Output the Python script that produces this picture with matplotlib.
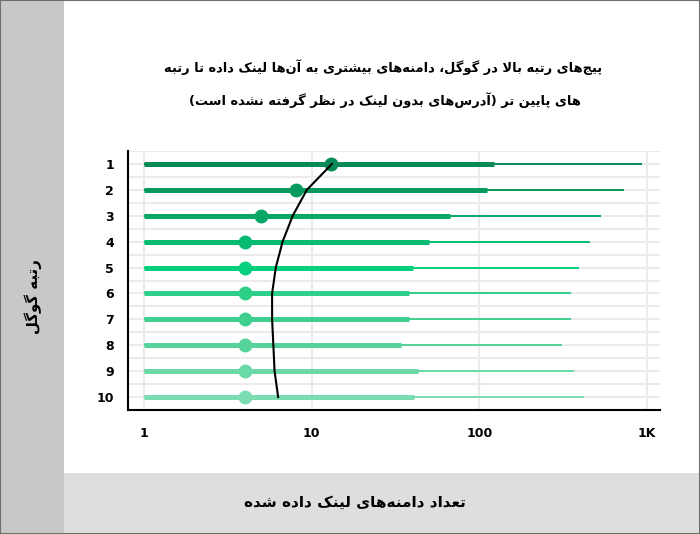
import numpy as np
import matplotlib.pyplot as plt
from matplotlib.patches import Rectangle

# data
ranks = [1, 2, 3, 4, 5, 6, 7, 8, 9, 10]
median_links = [13, 8, 5, 4, 4, 4, 4, 4, 4, 4]
q3_links = [123, 112, 67, 50, 40, 38, 38, 34, 43, 41]
max_links = [940, 730, 530, 460, 395, 355, 353, 313, 370, 425]
trend_links = [13.2, 9.35, 7.7, 6.7, 6.1, 5.8, 5.8, 5.9, 6.0, 6.3]
row_colors = ['#078a55', '#08995e', '#07a866', '#05bb72', '#06d07e',
              '#2ecf88', '#3fd08f', '#55d39a', '#6ad9a6', '#7adcb0']
x_ticks = [1, 10, 100, 1000]
x_tick_labels = ['1', '10', '100', '1K']

title_lines = ['پیج‌های رتبه بالا در گوگل، دامنه‌های بیشتری به آن‌ها لینک داده تا رتبه',
               'های پایین تر (آدرس‌های بدون لینک در نظر گرفته نشده است)']
y_label = 'رتبه گوگل'
x_label = 'تعداد دامنه‌های لینک داده شده'


# matplotlib has no arabic shaping, so do a small one by hand
LETTERS = [('ء', 0xFE80, 1), ('آ', 0xFE81, 2), ('ا', 0xFE8D, 2), ('ب', 0xFE8F, 4),
           ('ت', 0xFE95, 4), ('ث', 0xFE99, 4), ('ج', 0xFE9D, 4), ('ح', 0xFEA1, 4),
           ('خ', 0xFEA5, 4), ('د', 0xFEA9, 2), ('ذ', 0xFEAB, 2), ('ر', 0xFEAD, 2),
           ('ز', 0xFEAF, 2), ('س', 0xFEB1, 4), ('ش', 0xFEB5, 4), ('ص', 0xFEB9, 4),
           ('ض', 0xFEBD, 4), ('ط', 0xFEC1, 4), ('ظ', 0xFEC5, 4), ('ع', 0xFEC9, 4),
           ('غ', 0xFECD, 4), ('ف', 0xFED1, 4), ('ق', 0xFED5, 4), ('ل', 0xFEDD, 4),
           ('م', 0xFEE1, 4), ('ن', 0xFEE5, 4), ('ه', 0xFEE9, 4), ('و', 0xFEED, 2),
           ('پ', 0xFB56, 4), ('چ', 0xFB7A, 4), ('ژ', 0xFB8A, 2), ('ک', 0xFB8E, 4),
           ('گ', 0xFB92, 4), ('ی', 0xFBFC, 4)]
FORMS = {ch: (start, n) for ch, start, n in LETTERS}


def shape(text):
    out = []
    i = 0
    while i < len(text):
        ch = text[i]
        if ch not in FORMS:
            if ch != '\u200c':
                out.append(ch)
            i += 1
            continue
        prev = text[i - 1] if i > 0 else ''
        join_prev = prev in FORMS and FORMS[prev][1] == 4
        nxt = text[i + 1] if i + 1 < len(text) else ''
        if ch == 'ل' and nxt in ('ا', 'آ'):
            base = 0xFEFB if nxt == 'ا' else 0xFEF5
            out.append(chr(base + (1 if join_prev else 0)))
            i += 2
            continue
        start, n = FORMS[ch]
        join_next = n == 4 and nxt in FORMS
        if n == 1:
            k = 0
        elif join_prev and join_next:
            k = 3
        elif join_prev:
            k = 1
        elif join_next:
            k = 2
        else:
            k = 0
        out.append(chr(start + k))
        i += 1
    vis = ''.join(reversed(out))
    return vis.translate(str.maketrans('()', ')('))


fig = plt.figure(figsize=(7, 5.34), dpi=100)
fig.patches.append(Rectangle((0, 0), 64 / 700, 1, transform=fig.transFigure,
                             facecolor='#c8c8c8', edgecolor='none', zorder=0))
fig.patches.append(Rectangle((64 / 700, 0), 1 - 64 / 700, 61 / 534, transform=fig.transFigure,
                             facecolor='#dedede', edgecolor='none', zorder=0))
fig.patches.append(Rectangle((0, 0), 1, 1, transform=fig.transFigure,
                             facecolor='none', edgecolor='#6e6e6e', lw=1.5, zorder=5))

ax = fig.add_axes([128 / 700, 1 - 410 / 534, 532 / 700, 259 / 534])
ax.set_xscale('log')
ax.set_xlim(0.8, 1200)
ax.set_ylim(10.5, 0.5)

for r, med, q3, mx, c in zip(ranks, median_links, q3_links, max_links, row_colors):
    ax.plot([1, mx], [r, r], color=c, lw=1.4, solid_capstyle='butt', zorder=3)
    ax.plot([1, q3], [r, r], color=c, lw=3.6, solid_capstyle='butt', zorder=4)
    ax.plot([med], [r], 'o', color=c, markersize=9, zorder=5)

ax.plot(trend_links, ranks, color='black', lw=1.5, zorder=6)

ax.set_xticks(x_ticks)
ax.set_xticklabels(x_tick_labels)
ax.xaxis.set_minor_locator(plt.NullLocator())
ax.set_yticks(ranks)
ax.set_yticks(np.arange(0.5, 11, 1), minor=True)
ax.grid(True, which='major', color='#ebebeb', lw=1.5, zorder=0)
ax.grid(True, which='minor', axis='y', color='#ebebeb', lw=1.5, zorder=0)
ax.set_axisbelow(True)
ax.tick_params(which='both', length=0)
ax.tick_params(axis='y', pad=10)
ax.tick_params(axis='x', pad=12)
for lab in ax.get_xticklabels() + ax.get_yticklabels():
    lab.set_fontweight('bold')
    lab.set_fontsize(9)
for s in ['top', 'right']:
    ax.spines[s].set_visible(False)
for s in ['left', 'bottom']:
    ax.spines[s].set_linewidth(1.5)
    ax.spines[s].set_color('black')

fig.text(383 / 700, 1 - 67 / 534, shape(title_lines[0]), ha='center', va='center',
         fontsize=9.4, fontweight='bold')
fig.text(385 / 700, 1 - 100 / 534, shape(title_lines[1]), ha='center', va='center',
         fontsize=9.4, fontweight='bold')
fig.text(33 / 700, 1 - 297 / 534, shape(y_label), rotation=90, ha='center', va='center',
         fontsize=10.8, fontweight='bold')
fig.text(355 / 700, 1 - 502 / 534, shape(x_label), ha='center', va='center',
         fontsize=11, fontweight='bold')

fig.savefig('out.png', dpi=100)
